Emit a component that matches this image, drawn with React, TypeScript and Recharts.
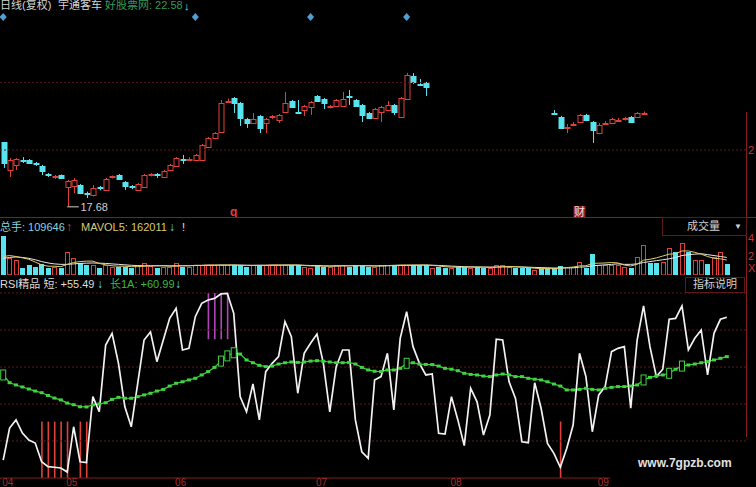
import React from "react";
import {
  ComposedChart,
  Bar,
  Line,
  XAxis,
  YAxis,
  ReferenceLine,
  ReferenceDot,
} from "recharts";

const _ = null;

// x axis: one slot per trading day, month starts
const monthTicks = [0, 10, 27, 49, 70, 93];
const monthLabels = ["04", "05", "06", "07", "08", "09"];

// daily candles (part of the chart is blacked out in the source)
const openP = [
  20.33, 19.18, 19.39, 19.61, 19.59, 19.45, 19.35, 19.0, 18.88, 18.98,
  18.49, 18.53, 18.57, 18.26, 18.16, 18.47, 18.37, 18.88, 18.98, 18.69,
  18.51, 18.37, 18.49, 18.96, 19.0, 18.9, 19.18, 19.35, 19.65, 19.61,
  19.59, 19.59, 20.12, 20.49, 20.73, 21.98, 22.12, 21.92, 21.27, 21.1,
  21.39, 21.1, 21.33, 21.22, 21.55, 22.0, 21.57, 21.63, 21.76, 22.2,
  22.08, 21.74, 21.8, 21.8, 22.22, 22.04, 21.84, 21.51, 21.31, 21.55,
  21.63, 21.84, 21.35, 22.08, 23.02, 22.71, 22.73, _, _, _,
  _, _, _, _, _, _, _, _, _, _,
  _, _, _, _, _, _, 21.53, 21.35, 20.88, 21.04,
  21.14, 21.43, 21.14, 20.69, 21.08, 21.1, 21.2, 21.25, 21.35, 21.35,
  21.49, _, _, _, _, _, _, _, _, _,
  _, _, _, _,
];
const highP = [
  20.33, 19.67, 19.67, 19.71, 19.63, 19.51, 19.39, 19.06, 18.98, 19.0,
  18.78, 18.86, 18.61, 18.3, 18.57, 18.53, 18.86, 18.96, 19.02, 18.73,
  18.57, 18.65, 19.02, 19.06, 19.06, 19.18, 19.43, 19.71, 19.8, 19.71,
  19.84, 20.25, 20.53, 20.73, 22.04, 22.1, 22.16, 21.96, 21.31, 21.51,
  21.43, 21.31, 21.43, 21.47, 22.37, 22.04, 22.04, 21.84, 22.0, 22.24,
  22.12, 21.84, 22.08, 22.37, 22.45, 22.08, 21.88, 21.55, 21.72, 21.8,
  22.0, 21.88, 22.16, 23.14, 23.14, 22.9, 22.78, _, _, _,
  _, _, _, _, _, _, _, _, _, _,
  _, _, _, _, _, _, 21.63, 21.39, 21.06, 21.14,
  21.47, 21.47, 21.18, 21.1, 21.18, 21.31, 21.31, 21.35, 21.39, 21.55,
  21.57, _, _, _, _, _, _, _, _, _,
  _, _, _, _,
];
const lowP = [
  19.27, 18.9, 19.18, 19.47, 19.43, 19.35, 18.98, 18.9, 18.82, 18.82,
  17.68, 18.24, 18.2, 18.04, 18.1, 18.35, 18.33, 18.84, 18.78, 18.37,
  18.41, 18.33, 18.45, 18.92, 18.86, 18.86, 19.14, 19.31, 19.43, 19.55,
  19.55, 19.55, 20.08, 20.45, 20.69, 21.92, 21.51, 20.98, 20.9, 21.06,
  20.69, 20.69, 21.27, 21.1, 21.51, 21.72, 21.51, 21.39, 21.43, 21.96,
  21.67, 21.7, 21.76, 21.76, 21.84, 21.76, 21.14, 21.27, 21.27, 21.14,
  21.59, 21.43, 21.31, 22.04, 22.69, 22.61, 22.2, _, _, _,
  _, _, _, _, _, _, _, _, _, _,
  _, _, _, _, _, _, 21.43, 20.86, 20.69, 20.98,
  21.1, 21.18, 20.29, 20.65, 21.02, 21.06, 21.14, 21.2, 21.1, 21.31,
  21.47, _, _, _, _, _, _, _, _, _,
  _, _, _, _,
];
const closeP = [
  19.47, 19.59, 19.63, 19.57, 19.47, 19.41, 19.14, 18.96, 18.92, 18.86,
  18.73, 18.78, 18.24, 18.22, 18.45, 18.43, 18.82, 18.92, 18.82, 18.53,
  18.47, 18.61, 18.98, 19.0, 18.96, 19.14, 19.39, 19.67, 19.61, 19.65,
  19.8, 20.2, 20.49, 20.69, 21.92, 22.02, 21.92, 21.31, 21.1, 21.27,
  20.9, 21.27, 21.37, 21.43, 21.92, 21.76, 21.53, 21.8, 21.96, 22.0,
  21.92, 21.78, 22.04, 22.08, 22.18, 21.8, 21.43, 21.31, 21.67, 21.76,
  21.84, 21.55, 22.12, 23.06, 22.78, 22.67, 22.57, _, _, _,
  _, _, _, _, _, _, _, _, _, _,
  _, _, _, _, _, _, 21.49, 20.9, 20.94, 21.08,
  21.43, 21.22, 20.82, 21.02, 21.12, 21.27, 21.24, 21.29, 21.14, 21.51,
  21.53, _, _, _, _, _, _, _, _, _,
  _, _, _, _,
];

// volume in units of 10,000 lots; r = up day, c = down day
const volume = [
  42.5, 18, 16.2, 7.2, 10.8, 9, 11.5, 7.9, 9, 7.2,
  24.5, 18, 12.6, 10.8, 10.8, 7.2, 10.8, 9, 9, 9,
  7.2, 10.8, 13, 9.4, 7.9, 9, 9, 13, 9, 9,
  10.5, 10.8, 11, 10.8, 10.8, 10.5, 10.8, 10.8, 9, 10.8,
  10.8, 10.8, 10.8, 10.8, 10.8, 10.8, 10.8, 9, 7.9, 10.8,
  9, 9, 10.8, 10.8, 9, 10.8, 10, 9, 9, 10.8,
  10.8, 10.8, 10.8, 10.8, 10.8, 10.8, 10.8, 8, 9, 7.2,
  8, 9, 9, 8, 9, 7.9, 7.2, 10.8, 10.8, 9,
  7.9, 7.9, 7.9, 5.4, 6.1, 7.2, 7.2, 10, 9, 9,
  14.4, 7.2, 22.3, 10.8, 10.8, 10.8, 10.8, 9, 7.2, 19.8,
  32.4, 13, 13, 14, 29, 25, 34.6, 25, 16, 16,
  12, 19.8, 25, 12,
];
const volDir =
  "crrcccccrc" + "rrccrcrrcc" + "crrrcrrrcr" + "rrrrrrcccr" +
  "crrrrccrrc" + "crrrccccrr" + "rcrrcccrcc" + "rccrccrrrr" +
  "cccrccccrr" + "rccrrrrrcr" + "rccrrcrcrr" + "crrc";
const maVol5 = [
  20, 21, 20, 18.5, 17, 14, 11, 9.5, 9.5, 9,
  11.5, 13.5, 14.5, 15, 15, 12.5, 11, 10, 9.5, 9.5,
  9, 9, 9.5, 10, 10, 10, 9.5, 9.5, 10, 10,
  10.5, 10.5, 10.8, 10.8, 10.8, 10.8, 10.8, 10.5, 10.3, 10.3,
  10.5, 10.5, 10.8, 10.8, 10.8, 10.8, 10.8, 10.3, 9.8, 9.8,
  9.5, 9.5, 9.7, 10, 10, 10.2, 10.2, 10, 9.6, 9.8,
  10.2, 10.5, 10.8, 10.8, 10.8, 10.8, 10.8, 10.3, 9.8, 9,
  8.5, 8.5, 8.5, 8.5, 8.5, 8.5, 8.3, 8.5, 9, 9.3,
  9, 8.5, 8, 7.3, 7, 6.8, 6.8, 7.3, 8, 8.6,
  9.8, 10, 12.5, 12.8, 13, 13.5, 13, 10.7, 9.7, 11.7,
  16, 17, 18.5, 20.5, 22.5, 23, 26, 26, 24.5, 22.5,
  20, 18, 17.5, 16.2,
];
const maVol10 = [
  18, 19, 19.5, 19, 18, 16.5, 14.5, 13, 12, 11.5,
  11.5, 12, 12.5, 12.8, 13, 12.8, 12.5, 12, 11.5, 11,
  10.5, 10.2, 10, 10, 10, 10, 10, 10, 10, 10,
  10.2, 10.3, 10.5, 10.5, 10.7, 10.7, 10.8, 10.7, 10.6, 10.5,
  10.5, 10.5, 10.6, 10.6, 10.7, 10.7, 10.7, 10.5, 10.3, 10.2,
  10, 9.8, 9.8, 9.9, 9.9, 10, 10, 10, 9.9, 9.9,
  10, 10.1, 10.3, 10.4, 10.5, 10.6, 10.7, 10.6, 10.3, 10,
  9.6, 9.3, 9, 8.8, 8.7, 8.6, 8.5, 8.6, 8.7, 8.8,
  8.8, 8.7, 8.5, 8.2, 8, 7.8, 7.6, 7.6, 7.6, 7.8,
  8.5, 8.8, 10, 10.5, 11, 11.5, 12, 11.5, 11.5, 12,
  13.5, 14.5, 15.5, 16.5, 17.5, 19, 21, 22, 22.5, 23,
  22, 21, 20, 19,
];

// RSI indicator
const rsiShort = [
  9.7, 27, 31.4, 24.3, 20.5, 18.9, 8.8, 6.1, 5.8, 5.4,
  3.2, 27.7, 8.8, 8.3, 44, 35.8, 71.9, 78.2, 62, 38.5,
  27.7, 51, 74.6, 79, 62.9, 74.6, 86.3, 91.7, 69.2, 70.1,
  87.2, 94.4, 96.2, 97.1, 99.5, 99.8, 89, 44, 35.8, 50.8,
  31.4, 57.5, 62, 65.6, 84.5, 76.4, 45.8, 67.4, 72.8, 77.8,
  62, 35.8, 60.2, 69.2, 69.2, 31.4, 14.2, 10.6, 53, 54.8,
  67.4, 36.8, 75.5, 89.9, 71, 62, 55.7, 56.2, 24.2, 23.8,
  44, 31.4, 17.5, 48.5, 41.2, 23.2, 34, 75, 74.6, 52,
  43, 19.6, 19.1, 51.5, 37.7, 18.7, 13.3, 5.8, 16, 28.6,
  67.4, 54.8, 25, 44.9, 49.4, 68.3, 70.1, 71, 37.7, 74.6,
  93, 71, 54.8, 58.8, 85.8, 86.3, 93, 69.2, 75.5, 80,
  55.7, 78.2, 85.8, 86.9,
];
const rsiLong = [
  55.7, 51.5, 50.3, 49.2, 48.1, 47, 46.1, 44.6, 43.2, 42.2,
  40.5, 39.6, 38.5, 38.4, 39.5, 40, 40.7, 42.5, 43.6, 43.1,
  43.1, 44, 44.9, 45.8, 47, 47.9, 49.7, 51.2, 52, 53,
  53.9, 55.7, 57.5, 59.8, 63.2, 66, 67.7, 67, 63.8, 62.3,
  60.9, 60.2, 60.5, 61.6, 62.3, 62.7, 62.5, 62.7, 63.2, 63.4,
  63.1, 62.7, 62.3, 62.3, 62.5, 61.6, 59.8, 58.4, 57.7, 57.5,
  58.4, 58.4, 59.3, 62, 62.3, 61.6, 61.4, 61.3, 60.5, 59.3,
  58.8, 58, 56.6, 56, 55.7, 55.1, 54.8, 55.7, 56.2, 55.7,
  54.8, 54.8, 53.9, 53.4, 53, 52, 50.8, 49.7, 47.6, 47.6,
  47.9, 48.5, 47.9, 47.6, 48.5, 49, 49.4, 49.4, 49.7, 50.3,
  53, 54.4, 55.1, 55.7, 56.6, 58.8, 60.5, 61.1, 61.6, 62.3,
  62.9, 63.8, 64.7, 65.6,
];
const longHollow = [0, 34, 35, 36, 63, 100, 104, 106];
const buySignals = [6, 7, 8, 9, 10, 12, 13, 87];
const sellSignals = [32, 33, 34, 35];
const buyRange = [0, 30.5];
const sellRange = [75, 100];

// markers on the price panel
const topMarks = [0, 30, 48, 63];
const eventMarks = [
  { i: 36, text: "q" },
  { i: 90, text: "财" },
];

const RED = "#e0403a";
const CYAN = "#58e4ee";
const GREEN = "#3fd43f";
const PURPLE = "#b044b8";
const GRID = "#5e1818";
const AXIS = "#861c1c";
const FONT = "'Liberation Sans', 'Noto Sans CJK SC', sans-serif";

const N = rsiShort.length;
const XDOM: [number, number] = [-0.5, N - 0.5];
const MARGIN = { top: 0, right: 26, bottom: 0, left: 0 };

const data = rsiShort.map((s, i) => ({
  i,
  o: openP[i],
  h: highP[i],
  l: lowP[i],
  c: closeP[i],
  v: volume[i],
  up: volDir[i] === "r",
  ma5: maVol5[i],
  ma10: maVol10[i],
  s,
  lg: rsiLong[i],
  buy: buySignals.includes(i),
  sig: buySignals.includes(i)
    ? buyRange
    : sellSignals.includes(i)
    ? sellRange
    : null,
}));

const lowVal = Math.min(...(lowP.filter((v) => v != null) as number[]));
const lowIdx = lowP.indexOf(lowVal);

const Candle = (p: any) => {
  const { x, y, width, height, payload } = p;
  if (!payload || payload.o == null) return null;
  const { o, c, h, l } = payload;
  const top = Math.min(y, y + height);
  const hh = Math.abs(height);
  const k = h - l > 0 ? hh / (h - l) : 0;
  const cx = Math.round(x + width / 2) + 0.5;
  const yO = top + (h - o) * k;
  const yC = top + (h - c) * k;
  const up = c >= o;
  const col = up ? RED : CYAN;
  const bt = Math.round(Math.min(yO, yC)) + 0.5;
  const bh = Math.max(Math.round(Math.abs(yO - yC)), 1);
  return (
    <g>
      <line x1={cx} x2={cx} y1={top} y2={bt} stroke={col} />
      <line x1={cx} x2={cx} y1={bt + bh} y2={top + hh} stroke={col} />
      <rect
        x={cx - 2.5}
        y={bt}
        width={5}
        height={bh}
        fill={up ? "#000" : col}
        stroke={col}
      />
    </g>
  );
};

const VolBar = (p: any) => {
  const { x, y, width, height, payload } = p;
  if (!payload || !height) return null;
  const up = payload.up;
  return (
    <rect
      x={Math.round(x) + 0.5}
      y={Math.round(y) + 0.5}
      width={width - 1}
      height={Math.max(height - 0.5, 1)}
      fill={up ? "#000" : CYAN}
      stroke={up ? RED : CYAN}
    />
  );
};

const SignalBar = (p: any) => {
  const { x, y, width, height, payload } = p;
  if (!payload || payload.sig == null) return null;
  const cx = x + width / 2;
  return (
    <line
      x1={cx}
      x2={cx}
      y1={y}
      y2={y + height}
      stroke={payload.buy ? RED : PURPLE}
      strokeWidth={1.6}
    />
  );
};

const LongDot = (p: any) => {
  const { cx, cy, index } = p;
  if (cx == null || cy == null) return <g key={`d${index}`} />;
  if (longHollow.includes(index)) {
    return (
      <rect
        key={`d${index}`}
        x={cx - 2.5}
        y={cy - 5}
        width={5}
        height={10}
        fill="#000"
        stroke={GREEN}
      />
    );
  }
  return (
    <rect
      key={`d${index}`}
      x={cx - 2}
      y={cy - 1.5}
      width={4}
      height={3}
      fill={GREEN}
    />
  );
};

const MonthTick = (p: any) => {
  const { x, payload } = p;
  const label = monthLabels[monthTicks.indexOf(payload.value)];
  return (
    <text x={Math.max(0, x - 1)} y={206} fill="#a82c2c" fontSize={10}>
      {label}
    </text>
  );
};

const T = ({ x, y, c, s = 11, bold, children }: any) => (
  <span
    style={{
      position: "absolute",
      left: x,
      top: y,
      color: c,
      fontSize: s,
      lineHeight: `${s}px`,
      whiteSpace: "nowrap",
      fontWeight: bold ? 700 : 400,
    }}
  >
    {children}
  </span>
);

const gridSeg = (y: number, x1: number, x2: number) => [
  { x: x1, y },
  { x: x2, y },
];

export default function App() {
  return (
    <div
      style={{
        position: "absolute",
        left: 0,
        top: 0,
        width: 756,
        height: 487,
        background: "#000",
        overflow: "hidden",
        fontFamily: FONT,
      }}
    >
      {/* price panel */}
      <div style={{ position: "absolute", left: 0, top: 0 }}>
        <ComposedChart
          width={756}
          height={218}
          data={data}
          margin={{ ...MARGIN, top: 10 }}
        >
          <XAxis type="number" dataKey="i" domain={XDOM} hide allowDataOverflow />
          <YAxis domain={[17.224, 25.714]} hide allowDataOverflow />
          <ReferenceLine
            segment={gridSeg(22.75, -0.5, 66.8)}
            stroke={GRID}
            strokeDasharray="2 2"
            ifOverflow="visible"
          />
          <ReferenceLine
            segment={gridSeg(20, -0.5, 116.2)}
            stroke={GRID}
            strokeDasharray="2 2"
            ifOverflow="visible"
          />
          <Bar
            dataKey={(d: any) => (d.h == null ? null : [d.l, d.h])}
            barSize={5}
            shape={Candle}
            isAnimationActive={false}
          />
          <ReferenceLine
            segment={[
              { x: lowIdx, y: lowVal },
              { x: lowIdx + 1.8, y: lowVal },
            ]}
            stroke="#cfcfcf"
            ifOverflow="visible"
          />
          <ReferenceDot
            x={lowIdx + 1.9}
            y={lowVal}
            r={0}
            ifOverflow="visible"
            label={{
              value: lowVal.toFixed(2),
              position: "right",
              offset: 1,
              fill: "#cfcfcf",
              fontSize: 11,
            }}
          />
          {topMarks.map((i) => (
            <ReferenceDot
              key={`m${i}`}
              x={i}
              y={25.43}
              ifOverflow="visible"
              shape={(p: any) => (
                <path
                  d={`M${p.cx},${p.cy - 4} L${p.cx + 3.5},${p.cy} L${p.cx},${p.cy + 4} L${p.cx - 3.5},${p.cy} Z`}
                  fill="#4d9fd6"
                />
              )}
            />
          ))}
          {eventMarks.map((m) => (
            <ReferenceDot
              key={`e${m.i}`}
              x={m.i}
              y={17.47}
              ifOverflow="visible"
              shape={(p: any) =>
                m.text === "q" ? (
                  <text
                    x={p.cx}
                    y={p.cy + 4}
                    textAnchor="middle"
                    fill={RED}
                    fontSize={12}
                    fontWeight={700}
                  >
                    {m.text}
                  </text>
                ) : (
                  <g>
                    <rect x={p.cx - 6} y={p.cy - 6} width={12} height={12} fill="#9a1c1c" />
                    <text
                      x={p.cx}
                      y={p.cy + 4}
                      textAnchor="middle"
                      fill="#f0e0e0"
                      fontSize={11}
                    >
                      {m.text}
                    </text>
                  </g>
                )
              }
            />
          ))}
        </ComposedChart>
      </div>

      {/* volume panel */}
      <div style={{ position: "absolute", left: 0, top: 218 }}>
        <ComposedChart width={756} height={57} data={data} margin={MARGIN}>
          <XAxis type="number" dataKey="i" domain={XDOM} hide allowDataOverflow />
          <YAxis domain={[0, 61.62]} hide allowDataOverflow />
          <Bar dataKey="v" barSize={5} shape={VolBar} isAnimationActive={false} />
          <Line
            dataKey="ma10"
            type="linear"
            stroke="#e6e6e6"
            strokeWidth={1}
            dot={false}
            isAnimationActive={false}
          />
          <Line
            dataKey="ma5"
            type="linear"
            stroke="#e0cc6a"
            strokeWidth={1}
            dot={false}
            isAnimationActive={false}
          />
        </ComposedChart>
      </div>

      {/* RSI panel */}
      <div style={{ position: "absolute", left: 0, top: 280 }}>
        <ComposedChart width={756} height={207} data={data} margin={MARGIN}>
          <XAxis
            type="number"
            dataKey="i"
            domain={XDOM}
            ticks={monthTicks}
            interval={0}
            height={9}
            axisLine={false}
            tickLine={false}
            tick={MonthTick}
            allowDataOverflow
          />
          <YAxis domain={[0, 107.03]} hide allowDataOverflow />
          {[20, 40, 60, 80, 100].map((v) => (
            <ReferenceLine
              key={`g${v}`}
              segment={gridSeg(v, -0.5, 116.2)}
              stroke={GRID}
              strokeDasharray="2 2"
              ifOverflow="visible"
            />
          ))}
          <ReferenceLine
            segment={gridSeg(0, -0.5, 94.8)}
            stroke={AXIS}
            ifOverflow="visible"
          />
          <Bar
            dataKey="sig"
            barSize={3}
            shape={SignalBar}
            isAnimationActive={false}
          />
          <Line
            dataKey="lg"
            type="linear"
            stroke={GREEN}
            strokeWidth={1.2}
            dot={LongDot}
            isAnimationActive={false}
          />
          <Line
            dataKey="s"
            type="linear"
            stroke="#f2f2f2"
            strokeWidth={1.7}
            dot={false}
            isAnimationActive={false}
          />
        </ComposedChart>
      </div>

      {/* panel frames */}
      <div style={{ position: "absolute", left: 0, top: 217, width: 756, height: 1, background: AXIS }} />
      <div style={{ position: "absolute", left: 746, top: 112, width: 1, height: 325, background: AXIS }} />
      <div
        style={{
          position: "absolute",
          left: 662,
          top: 217,
          width: 83,
          height: 17,
          border: `1px solid ${GRID}`,
          background: "#000",
        }}
      />
      <div
        style={{
          position: "absolute",
          left: 685,
          top: 277,
          width: 58,
          height: 14,
          border: `1px solid ${GRID}`,
          background: "#000",
        }}
      />

      {/* titles */}
      <T x={0} y={0} c="#d4d4d4">日线(复权)</T>
      <T x={58} y={0} c="#d4d4d4">宇通客车</T>
      <T x={105} y={0} c="#2f9c5c">好股票网: 22.58</T>
      <T x={184} y={1} c={CYAN} s={11} bold>↓</T>

      <T x={0} y={222} c="#86d2e2">总手: 109646</T>
      <T x={66} y={221} c={RED} s={12} bold>↑</T>
      <T x={81} y={222} c="#d8c878">MAVOL5: 162011</T>
      <T x={169} y={221} c={CYAN} s={12} bold>↓</T>
      <T x={182} y={222} c="#e0e0e0">!</T>
      <T x={687} y={221} c="#d0d0d0">成交量</T>
      <T x={734} y={223} c="#d0d0d0" s={8}>▼</T>

      <T x={0} y={279} c="#dcdcdc">RSI精品 短: +55.49</T>
      <T x={97} y={278} c={CYAN} s={12} bold>↓</T>
      <T x={110} y={279} c="#3cb83c">长1A: +60.99</T>
      <T x={175} y={278} c={CYAN} s={12} bold>↓</T>
      <T x={693} y={279} c="#d0d0d0">指标说明</T>

      {/* right axis labels */}
      <T x={748} y={145} c="#c83232">2</T>
      <T x={748} y={233} c="#c83232">4</T>
      <T x={748} y={251} c="#c83232">2</T>
      <T x={748} y={263} c="#c83232">X</T>

      <T x={638} y={457} c="#e2e2e2" s={12} bold>www.7gpzb.com</T>
    </div>
  );
}
